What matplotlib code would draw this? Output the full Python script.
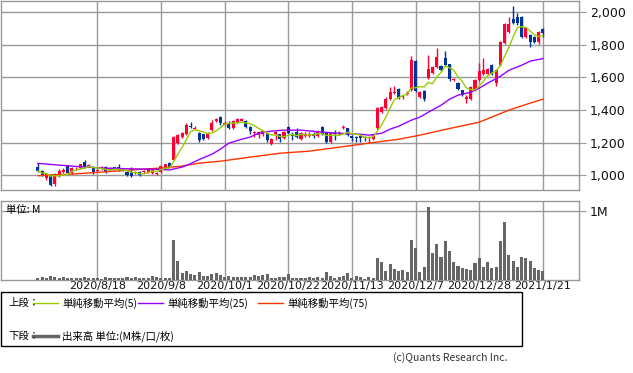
import numpy as np
import pandas as pd
import matplotlib
matplotlib.use("Agg")
import matplotlib.pyplot as plt
from matplotlib.patches import Rectangle
from matplotlib.lines import Line2D

plt.rcParams['font.family'] = ['DejaVu Sans', 'Noto Sans CJK JP']

# daily candles (one per trading day)
opens = [1049, 1025, 981, 1000, 945, 994, 1020, 1055, 1012, 1035,
         1043, 1080, 1055, 1049, 1025, 1037, 1049, 1030, 1047, 1049,
         1037, 1018, 1018, 1012, 1018, 1018, 1018, 1012, 1006, 1018,
         1043, 1073, 1092, 1196, 1233, 1251, 1300, 1282, 1257, 1251,
         1226, 1276, 1335, 1355, 1310, 1312, 1288, 1325, 1335, 1331,
         1294, 1260, 1245, 1255, 1257, 1190, 1255, 1251, 1226, 1294,
         1255, 1263, 1220, 1240, 1238, 1255, 1239, 1294, 1257, 1202,
         1260, 1250, 1290, 1288, 1240, 1235, 1240, 1235, 1227, 1220,
         1288, 1386, 1411, 1466, 1505, 1527, 1480, 1500, 1521, 1700,
         1480, 1515, 1595, 1626, 1663, 1669, 1718, 1681, 1585, 1564,
         1521, 1466, 1466, 1521, 1583, 1620, 1620, 1675, 1565, 1675,
         1810, 1877, 1962, 1969, 1969, 1846, 1859, 1846, 1816, 1896]
highs = [1073, 1030, 1010, 1005, 1012, 1035, 1045, 1060, 1050, 1050,
         1070, 1090, 1070, 1055, 1040, 1055, 1055, 1050, 1052, 1067,
         1045, 1025, 1049, 1025, 1025, 1030, 1045, 1035, 1018, 1060,
         1070, 1080, 1240, 1255, 1262, 1318, 1325, 1300, 1262, 1255,
         1262, 1337, 1350, 1362, 1330, 1335, 1337, 1350, 1350, 1337,
         1300, 1270, 1268, 1275, 1260, 1225, 1270, 1255, 1270, 1300,
         1262, 1290, 1262, 1265, 1265, 1262, 1275, 1300, 1262, 1262,
         1275, 1268, 1305, 1292, 1245, 1242, 1245, 1240, 1240, 1255,
         1420, 1425, 1478, 1540, 1545, 1535, 1490, 1515, 1730, 1705,
         1515, 1520, 1740, 1670, 1779, 1675, 1760, 1685, 1595, 1570,
         1525, 1490, 1550, 1590, 1686, 1718, 1660, 1680, 1650, 1822,
         1935, 1970, 2037, 1998, 1975, 1908, 1865, 1852, 1885, 1905]
lows = [1020, 995, 970, 935, 935, 990, 1010, 1005, 1005, 1030,
        1040, 1045, 1050, 1008, 1020, 1030, 1012, 1025, 1030, 1025,
        1025, 995, 990, 1005, 995, 1015, 1015, 1005, 1000, 1015,
        1040, 1045, 1090, 1190, 1230, 1245, 1290, 1280, 1205, 1215,
        1220, 1270, 1325, 1310, 1305, 1282, 1282, 1320, 1330, 1288,
        1255, 1235, 1225, 1240, 1205, 1185, 1215, 1205, 1220, 1250,
        1215, 1228, 1215, 1235, 1232, 1230, 1235, 1245, 1195, 1198,
        1215, 1245, 1285, 1240, 1210, 1205, 1205, 1210, 1200, 1215,
        1280, 1380, 1405, 1460, 1500, 1465, 1470, 1495, 1515, 1510,
        1475, 1455, 1590, 1620, 1655, 1640, 1670, 1580, 1580, 1520,
        1485, 1442, 1460, 1515, 1578, 1615, 1615, 1615, 1545, 1670,
        1805, 1872, 1928, 1925, 1840, 1840, 1785, 1810, 1805, 1850]
closes = [1025, 1000, 1006, 940, 1006, 1025, 1030, 1012, 1043, 1040,
          1067, 1049, 1061, 1012, 1031, 1049, 1018, 1040, 1035, 1031,
          1030, 1000, 994, 1018, 1000, 1025, 1043, 1031, 1012, 1055,
          1067, 1049, 1233, 1245, 1257, 1306, 1294, 1288, 1214, 1220,
          1257, 1318, 1343, 1318, 1320, 1288, 1331, 1343, 1343, 1294,
          1270, 1265, 1263, 1270, 1214, 1220, 1262, 1220, 1263, 1257,
          1240, 1233, 1257, 1250, 1255, 1240, 1270, 1251, 1202, 1257,
          1250, 1258, 1297, 1245, 1227, 1227, 1230, 1228, 1233, 1251,
          1411, 1417, 1470, 1509, 1510, 1472, 1486, 1505, 1705, 1515,
          1509, 1470, 1650, 1663, 1724, 1644, 1675, 1589, 1590, 1527,
          1491, 1480, 1540, 1585, 1638, 1644, 1650, 1620, 1644, 1816,
          1926, 1926, 1932, 1932, 1846, 1902, 1816, 1816, 1877, 1871]

# volume in millions
volume = [0.034, 0.043, 0.024, 0.058, 0.043, 0.024, 0.048, 0.024, 0.024, 0.034,
          0.024, 0.048, 0.024, 0.034, 0.034, 0.010, 0.043, 0.034, 0.034, 0.024,
          0.034, 0.043, 0.034, 0.043, 0.024, 0.034, 0.034, 0.058, 0.043, 0.034,
          0.034, 0.034, 0.577, 0.274, 0.106, 0.130, 0.087, 0.072, 0.110, 0.063,
          0.063, 0.087, 0.096, 0.072, 0.040, 0.058, 0.043, 0.043, 0.043, 0.043,
          0.043, 0.072, 0.058, 0.072, 0.087, 0.034, 0.034, 0.043, 0.040, 0.087,
          0.034, 0.034, 0.034, 0.034, 0.043, 0.034, 0.048, 0.024, 0.110, 0.058,
          0.034, 0.048, 0.063, 0.096, 0.024, 0.058, 0.048, 0.014, 0.038, 0.034,
          0.320, 0.265, 0.130, 0.230, 0.160, 0.135, 0.145, 0.120, 0.577, 0.466,
          0.120, 0.190, 1.058, 0.394, 0.520, 0.337, 0.563, 0.418, 0.265, 0.207,
          0.178, 0.159, 0.145, 0.240, 0.320, 0.190, 0.265, 0.178, 0.190, 0.563,
          0.842, 0.360, 0.274, 0.190, 0.337, 0.320, 0.274, 0.178, 0.145, 0.130]

# longer moving averages, read at a few bars (they start before the visible data)
ma25_idx = [0, 5, 10, 15, 22, 29, 31, 34, 36, 38, 41, 43, 45, 48, 50, 52, 55, 58,
            62, 67, 71, 76, 78, 81, 83, 85, 88, 90, 92, 95, 97, 99, 102, 104, 106,
            109, 111, 114, 116, 119]
ma25_val = [1072, 1061, 1051, 1043, 1038, 1035, 1031, 1049, 1070, 1095, 1128, 1159,
            1196, 1220, 1233, 1257, 1270, 1276, 1276, 1264, 1257, 1251, 1245, 1257,
            1282, 1300, 1337, 1356, 1386, 1429, 1466, 1491, 1509, 1534, 1565, 1607,
            1644, 1675, 1700, 1716]
ma75_idx = [0, 3, 8, 15, 22, 29, 34, 38, 43, 50, 57, 64, 71, 78, 85, 90, 97, 104,
            111, 116, 119]
ma75_val = [996, 1000, 1006, 1018, 1031, 1043, 1055, 1073, 1085, 1110, 1134, 1147,
            1171, 1196, 1220, 1245, 1286, 1325, 1399, 1442, 1466]

tick_idx = [14, 29, 44, 59, 74, 89, 104, 119]
tick_labels = ['2020/8/18', '2020/9/8', '2020/10/1', '2020/10/22',
               '2020/11/13', '2020/12/7', '2020/12/28', '2021/1/21']

UP = '#ff0033'
DOWN = '#003399'
GRID = '#999999'

df = pd.DataFrame({'open': opens, 'high': highs, 'low': lows, 'close': closes, 'vol': volume})
df['ma5'] = df['close'].rolling(5, min_periods=1).mean()
x = np.arange(len(df))

W, H = 633, 373
fig = plt.figure(figsize=(W / 100, H / 100), dpi=100)
ax = fig.add_axes([0.0015, 1 - 190 / H, 578 / W, 189.5 / H])
axv = fig.add_axes([0.0015, 1 - 280 / H, 578 / W, 79 / H])

for a in (ax, axv):
    a.set_xlim(-8.7, 127.5)
    for s in a.spines.values():
        s.set_color(GRID)
        s.set_linewidth(1)
    a.set_xticks(tick_idx)
    a.grid(True, color=GRID, linewidth=1)
    a.set_axisbelow(True)
    a.yaxis.tick_right()
    a.tick_params(axis='y', length=5, color=GRID, labelsize=9, pad=3, labelcolor='#111111')

# candles
colors = np.where(df['close'] >= df['open'], UP, DOWN)
body_lo = np.minimum(df['open'], df['close'])
body_h = np.maximum(np.abs(df['close'] - df['open']), 3)
ax.vlines(x, df['low'], df['high'], colors=colors, linewidth=1, zorder=3)
ax.bar(x, body_h, bottom=body_lo, width=0.72, color=colors, linewidth=0, zorder=4)

ax.plot(ma75_idx, ma75_val, color='#ff3300', linewidth=1, zorder=5)
ax.plot(ma25_idx, ma25_val, color='#9900ff', linewidth=1, zorder=5)
ax.plot(x, df['ma5'], color='#99cc00', linewidth=1, zorder=5)

ax.set_ylim(908, 2073)
ax.set_yticks([1000, 1200, 1400, 1600, 1800, 2000])
ax.set_yticklabels([f'{v:,}' for v in [1000, 1200, 1400, 1600, 1800, 2000]])
ax.tick_params(axis='x', length=0, labelbottom=False)

# volume
axv.bar(x, df['vol'], width=0.72, color='#666666', linewidth=0, zorder=3)
axv.set_ylim(0, 1.14)
axv.set_yticks([1.0])
axv.set_yticklabels(['1M'], fontsize=9)
axv.set_xticklabels(tick_labels, fontsize=8)
axv.tick_params(axis='x', length=0, pad=1, labelcolor='#111111')
axv.text(0.008, 0.89, '単位: M', transform=axv.transAxes, fontsize=7.5,
         va='center', ha='left', family=['Noto Sans CJK JP'], zorder=6)

# legend box
def fx(px):
    return px / W

def fy(py):
    return 1 - py / H

fig.patches.append(Rectangle((fx(0.5), fy(346)), fx(521), 54 / H, transform=fig.transFigure,
                             fill=False, edgecolor='black', linewidth=1))
jp = ['Noto Sans CJK JP']
fig.text(fx(8), fy(303), '上段：', fontsize=7.5, va='center', family=jp)
fig.text(fx(8), fy(336), '下段：', fontsize=7.5, va='center', family=jp)
items = [(33, '#99cc00', '単純移動平均(5)'), (138, '#9900ff', '単純移動平均(25)'),
         (258, '#ff3300', '単純移動平均(75)')]
for x0, c, label in items:
    fig.lines.append(Line2D([fx(x0), fx(x0 + 25)], [fy(303), fy(303)], transform=fig.transFigure,
                            color=c, linewidth=1))
    fig.text(fx(x0 + 29), fy(303), label, fontsize=7.5, va='center', family=jp)
fig.lines.append(Line2D([fx(33), fx(58)], [fy(336), fy(336)], transform=fig.transFigure,
                        color='#666666', linewidth=2.5))
fig.text(fx(62), fy(336), '出来高 単位:(M株/口/枚)', fontsize=7.5, va='center', family=jp)
fig.text(fx(507), fy(358), '(c)Quants Research Inc.', fontsize=7.5, va='center', ha='right',
         color='#333333', family=jp)

fig.savefig('out.png', dpi=100)
